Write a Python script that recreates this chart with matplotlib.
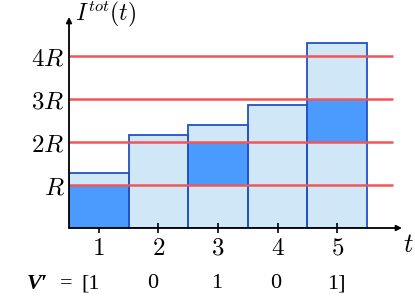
import matplotlib
matplotlib.use("Agg")
import matplotlib.pyplot as plt
import numpy as np

plt.rcParams['mathtext.fontset'] = 'cm'

# data
t = [1, 2, 3, 4, 5]
i_tot = [1.28, 2.16, 2.40, 2.86, 4.30]   # total height, in units of R
dark_lo = [0, 0, 1, 0, 2]                # dark segment start (R)
dark_hi = [1, 0, 2, 0, 3]                # dark segment end (R)
levels = [1, 2, 3, 4]
level_labels = ['$R$', '$2R$', '$3R$', '$4R$']
v_prime = ['[1', '0', '1', '0', '1]']

light = '#d0e7f8'
dark = '#4a9bfd'
edge = '#2352c2'
red = '#f25558'

fig = plt.figure(figsize=(4.15, 3.06), dpi=100)
W, H = 415, 306
x0, x1, y0, y1 = 69, 402, 17, 228
ax = fig.add_axes([x0 / W, 1 - y1 / H, (x1 - x0) / W, (y1 - y0) / H])
ax.set_xlim(0.5, 0.5 + (x1 - x0) / 59.6)
ax.set_ylim(0, (y1 - y0) / 43.0)

ax.bar(t, i_tot, width=1, color=light, edgecolor='none', zorder=1)
h = np.array(dark_hi) - np.array(dark_lo)
ax.bar(t, h, bottom=dark_lo, width=1, color=dark, edgecolor='none', zorder=2)
ax.bar(t, i_tot, width=1, fill=False, edgecolor=edge, linewidth=1.3, zorder=3)
ax.hlines(levels, 0.5, 5.94, color=red, linewidth=1.8, zorder=4)

for s in ax.spines.values():
    s.set_visible(False)
ax.annotate('', xy=(1.0, 0), xytext=(0, 0), xycoords='axes fraction',
            arrowprops=dict(arrowstyle='-|>', color='black', lw=1.3,
                            mutation_scale=8, shrinkA=0, shrinkB=0), zorder=5)
ax.annotate('', xy=(0, 1.0), xytext=(0, 0), xycoords='axes fraction',
            arrowprops=dict(arrowstyle='-|>', color='black', lw=1.3,
                            mutation_scale=8, shrinkA=0, shrinkB=0), zorder=5)

ax.set_xticks(t)
ax.set_xticklabels(['$%d$' % v for v in t], fontsize=18)
ax.tick_params(axis='x', direction='inout', length=7, width=1.2, pad=2)
ax.set_yticks(levels)
ax.set_yticklabels(level_labels, fontsize=18)
ax.tick_params(axis='y', length=0, pad=3)

fig.text(408 / W, 1 - 245 / H, '$t$', fontsize=19, ha='center', va='center')
fig.text(75 / W, 1 - 14 / H, r'$I^{tot}(t)$', fontsize=17, ha='left', va='center')

# V' row
ty = 1 - 284 / H
fig.text(27 / W, ty, "V\u2032", fontsize=16, fontweight='bold', style='italic',
         family='Liberation Serif', ha='left', va='center')
fig.text(60 / W, ty, "=", fontsize=16, family='Liberation Serif', ha='left', va='center')
xs = [91, 153, 217, 276, 336]
for x, s in zip(xs, v_prime):
    fig.text(x / W, ty, s, fontsize=16, family='Liberation Serif', ha='center', va='center')

fig.savefig('out.png', dpi=100)
